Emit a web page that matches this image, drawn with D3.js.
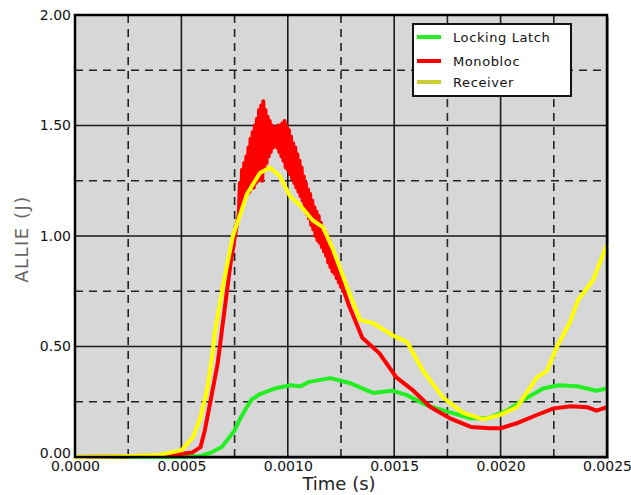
<!DOCTYPE html>
<html>
<head>
<meta charset="utf-8">
<script src="https://cdn.jsdelivr.net/npm/d3@7"></script>
<style>
  body { margin: 0; background: #fff; }
  text { font-family: "DejaVu Sans", sans-serif; }
</style>
</head>
<body>
<svg width="631" height="495"></svg>
<script>
// series names and colours
var seriesNames = ["Locking Latch", "Monobloc", "Receiver"];
var seriesColors = ["#22ee22", "#ff0000", "#ffff00"];
var legendColors = ["#22ee22", "#ff0000", "#cccc33"];

var xTicks = [0, 0.0005, 0.0010, 0.0015, 0.0020, 0.0025];
var xMinor = [0.00025, 0.00075, 0.00125, 0.00175, 0.00225];
var yTicks = [0, 0.5, 1.0, 1.5, 2.0];
var yMinor = [0.25, 0.75, 1.25, 1.75];

// [time (s), ALLIE (J)]
var lockingLatch = [
  [0, 0], [0.0004, 0], [0.0005, 0.0], [0.00059, 0.005], [0.00064, 0.02],
  [0.00069, 0.045], [0.00071, 0.07], [0.00075, 0.12], [0.00078, 0.18],
  [0.00081, 0.23], [0.00083, 0.26], [0.00087, 0.285], [0.00094, 0.31],
  [0.00101, 0.325], [0.00106, 0.32], [0.00110, 0.34], [0.00120, 0.357],
  [0.00129, 0.335], [0.00140, 0.29], [0.00149, 0.30], [0.00156, 0.28],
  [0.00165, 0.235], [0.00175, 0.205], [0.00186, 0.175], [0.00194, 0.175],
  [0.00203, 0.21], [0.00211, 0.26], [0.00220, 0.31], [0.00227, 0.325],
  [0.00236, 0.32], [0.00245, 0.30], [0.0025, 0.31]
];

// the peak of this one is very noisy, so it has many points there
var monobloc = [
  [0, 0], [0.00025, 0.003], [0.00045, 0.008], [0.00055, 0.02], [0.00059, 0.045],
  [0.00061, 0.12], [0.00064, 0.27], [0.00067, 0.42], [0.00069, 0.57],
  [0.00073, 0.87], [0.00076, 1.05],
  [0.000770, 1.10], [0.000775, 1.24], [0.000780, 1.12], [0.000785, 1.30],
  [0.000790, 1.15], [0.000795, 1.33], [0.000800, 1.18], [0.000805, 1.36],
  [0.000810, 1.19], [0.000815, 1.40], [0.000820, 1.20], [0.000825, 1.44],
  [0.000830, 1.22], [0.000835, 1.47], [0.000840, 1.22], [0.000845, 1.50],
  [0.000850, 1.24], [0.000855, 1.53], [0.000860, 1.25], [0.000865, 1.57],
  [0.000870, 1.26], [0.000875, 1.59], [0.000880, 1.25], [0.000885, 1.61],
  [0.000890, 1.30], [0.000895, 1.57], [0.000900, 1.33], [0.000905, 1.54],
  [0.000910, 1.36], [0.000915, 1.52], [0.000920, 1.38], [0.000925, 1.50],
  [0.000930, 1.40], [0.000935, 1.49], [0.000940, 1.41], [0.000945, 1.49],
  [0.000950, 1.40], [0.000955, 1.50], [0.000960, 1.38], [0.000965, 1.50],
  [0.000970, 1.36], [0.000975, 1.51], [0.000980, 1.34], [0.000985, 1.52],
  [0.000990, 1.31], [0.000995, 1.50], [0.001000, 1.30], [0.001005, 1.48],
  [0.001010, 1.28], [0.001015, 1.45], [0.001020, 1.26], [0.001025, 1.42],
  [0.001030, 1.24], [0.001035, 1.40], [0.001040, 1.22], [0.001045, 1.37],
  [0.001050, 1.20], [0.001055, 1.34], [0.001060, 1.18], [0.001065, 1.31],
  [0.001070, 1.16], [0.001075, 1.27], [0.001080, 1.13], [0.001085, 1.24],
  [0.001090, 1.10], [0.001095, 1.21], [0.001100, 1.08], [0.001105, 1.19],
  [0.001110, 1.05], [0.001115, 1.16], [0.001120, 1.03], [0.001125, 1.13],
  [0.001130, 1.00], [0.001135, 1.11], [0.001140, 0.98], [0.001145, 1.09],
  [0.001150, 0.97], [0.001155, 1.06], [0.001160, 0.95], [0.001165, 1.04],
  [0.001170, 0.93], [0.001175, 1.02], [0.001180, 0.91], [0.001185, 1.00],
  [0.001190, 0.88], [0.001195, 0.98], [0.001200, 0.86], [0.001205, 0.95],
  [0.001210, 0.84], [0.001215, 0.91], [0.001220, 0.83], [0.001225, 0.88],
  [0.001230, 0.81], [0.001235, 0.85], [0.001240, 0.79], [0.001245, 0.82],
  [0.001250, 0.77], [0.001255, 0.79], [0.001260, 0.76],
  [0.00129, 0.68], [0.00135, 0.54], [0.00143, 0.47], [0.00151, 0.36],
  [0.00159, 0.30], [0.00167, 0.226], [0.00176, 0.176], [0.00186, 0.136],
  [0.00195, 0.13], [0.00200, 0.13], [0.00208, 0.154], [0.00217, 0.19],
  [0.00225, 0.22], [0.00233, 0.23], [0.00241, 0.225], [0.00245, 0.21],
  [0.0025, 0.225]
];

var receiver = [
  [0, 0], [0.00025, 0.005], [0.0004, 0.01], [0.0005, 0.03], [0.000555, 0.09],
  [0.000587, 0.17], [0.00062, 0.30], [0.000644, 0.45], [0.000658, 0.57],
  [0.000695, 0.77], [0.000742, 1.00], [0.000808, 1.19], [0.000869, 1.285],
  [0.000916, 1.31], [0.000963, 1.27], [0.00101, 1.18], [0.001057, 1.14],
  [0.001118, 1.07], [0.001165, 1.04], [0.001212, 0.94], [0.001278, 0.77],
  [0.001339, 0.62], [0.0014, 0.606], [0.001494, 0.55], [0.00156, 0.52],
  [0.001635, 0.39], [0.001729, 0.27], [0.001823, 0.20], [0.001917, 0.17],
  [0.001997, 0.19], [0.002077, 0.226], [0.002171, 0.36], [0.002218, 0.39],
  [0.002265, 0.50], [0.002326, 0.61], [0.002364, 0.71], [0.002434, 0.80],
  [0.0025, 0.96]
];

var allSeries = [lockingLatch, monobloc, receiver];

var margin = {top: 15, right: 24, bottom: 38, left: 75},
    width = 631 - margin.left - margin.right,
    height = 495 - margin.top - margin.bottom;

var x = d3.scaleLinear().domain([0, 0.0025]).range([0, width]);
var y = d3.scaleLinear().domain([0, 2]).range([height, 0]);

var svg = d3.select("svg")
  .append("g")
  .attr("transform", "translate(" + margin.left + "," + margin.top + ")");

// shadow + plot background
svg.append("rect")
  .attr("x", 2).attr("y", 2)
  .attr("width", width).attr("height", height)
  .style("fill", "#9a9a9a");
svg.append("rect")
  .attr("width", width).attr("height", height)
  .style("fill", "#d7d7d7");

// dashed minor grid
svg.selectAll(".vminor").data(xMinor).enter().append("line")
  .attr("x1", function(d) { return x(d); }).attr("x2", function(d) { return x(d); })
  .attr("y1", 0).attr("y2", height)
  .style("stroke", "#222").style("stroke-width", 1.6).style("stroke-dasharray", "8,6");
svg.selectAll(".hminor").data(yMinor).enter().append("line")
  .attr("y1", function(d) { return y(d); }).attr("y2", function(d) { return y(d); })
  .attr("x1", 0).attr("x2", width)
  .style("stroke", "#222").style("stroke-width", 1.6).style("stroke-dasharray", "8,6");

// solid major grid
svg.selectAll(".vmajor").data(xTicks).enter().append("line")
  .attr("x1", function(d) { return x(d); }).attr("x2", function(d) { return x(d); })
  .attr("y1", 0).attr("y2", height)
  .style("stroke", "#1a1a1a").style("stroke-width", 1.6);
svg.selectAll(".hmajor").data(yTicks).enter().append("line")
  .attr("y1", function(d) { return y(d); }).attr("y2", function(d) { return y(d); })
  .attr("x1", 0).attr("x2", width)
  .style("stroke", "#1a1a1a").style("stroke-width", 1.6);

// the curves
var line = d3.line()
  .x(function(d) { return x(d[0]); })
  .y(function(d) { return y(d[1]); });

allSeries.forEach(function(s, i) {
  svg.append("path")
    .datum(s)
    .attr("d", line)
    .style("fill", "none")
    .style("stroke", seriesColors[i])
    .style("stroke-width", 4)
    .style("stroke-linejoin", "round");
});

// frame
svg.append("rect")
  .attr("width", width).attr("height", height)
  .style("fill", "none").style("stroke", "#000").style("stroke-width", 2.5);

// axes
var yAxis = svg.append("g")
  .call(d3.axisLeft(y).tickValues(yTicks).tickSize(0).tickPadding(4).tickFormat(d3.format(".2f")));
var xAxis = svg.append("g")
  .attr("transform", "translate(0," + height + ")")
  .call(d3.axisBottom(x).tickValues(xTicks).tickSize(0).tickPadding(4).tickFormat(d3.format(".4f")));
[xAxis, yAxis].forEach(function(a) {
  a.select(".domain").remove();
  a.selectAll("text").style("font-size", "14px").style("fill", "#111")
    .style("font-family", "'DejaVu Sans', sans-serif");
});
// lift the bottom y label a little, like the original
yAxis.selectAll(".tick text").filter(function(d) { return d === 0; }).attr("dy", "0.05em");

// axis titles
svg.append("text")
  .attr("x", width / 2 - 2).attr("y", height + 33)
  .attr("text-anchor", "middle")
  .style("font-size", "18px").style("fill", "#222")
  .text("Time (s)");
svg.append("text")
  .attr("transform", "translate(-47," + (height / 2 + 3) + ") rotate(-90)")
  .attr("text-anchor", "middle")
  .style("font-size", "18px").style("fill", "#666").style("letter-spacing", "1.5px")
  .text("ALLIE (J)");

// legend
var legend = svg.append("g").attr("transform", "translate(338,9)");
legend.append("rect")
  .attr("width", 158).attr("height", 72)
  .style("fill", "#fff").style("stroke", "#111").style("stroke-width", 2);
var rowY = [13, 37, 58];
seriesNames.forEach(function(n, i) {
  legend.append("line")
    .attr("x1", 4).attr("x2", 28)
    .attr("y1", rowY[i]).attr("y2", rowY[i])
    .style("stroke", legendColors[i]).style("stroke-width", 4);
  legend.append("text")
    .attr("x", 40).attr("y", rowY[i] + 5)
    .style("font-size", "13px").style("fill", "#111").style("letter-spacing", "0.6px")
    .text(n);
});
</script>
</body>
</html>
